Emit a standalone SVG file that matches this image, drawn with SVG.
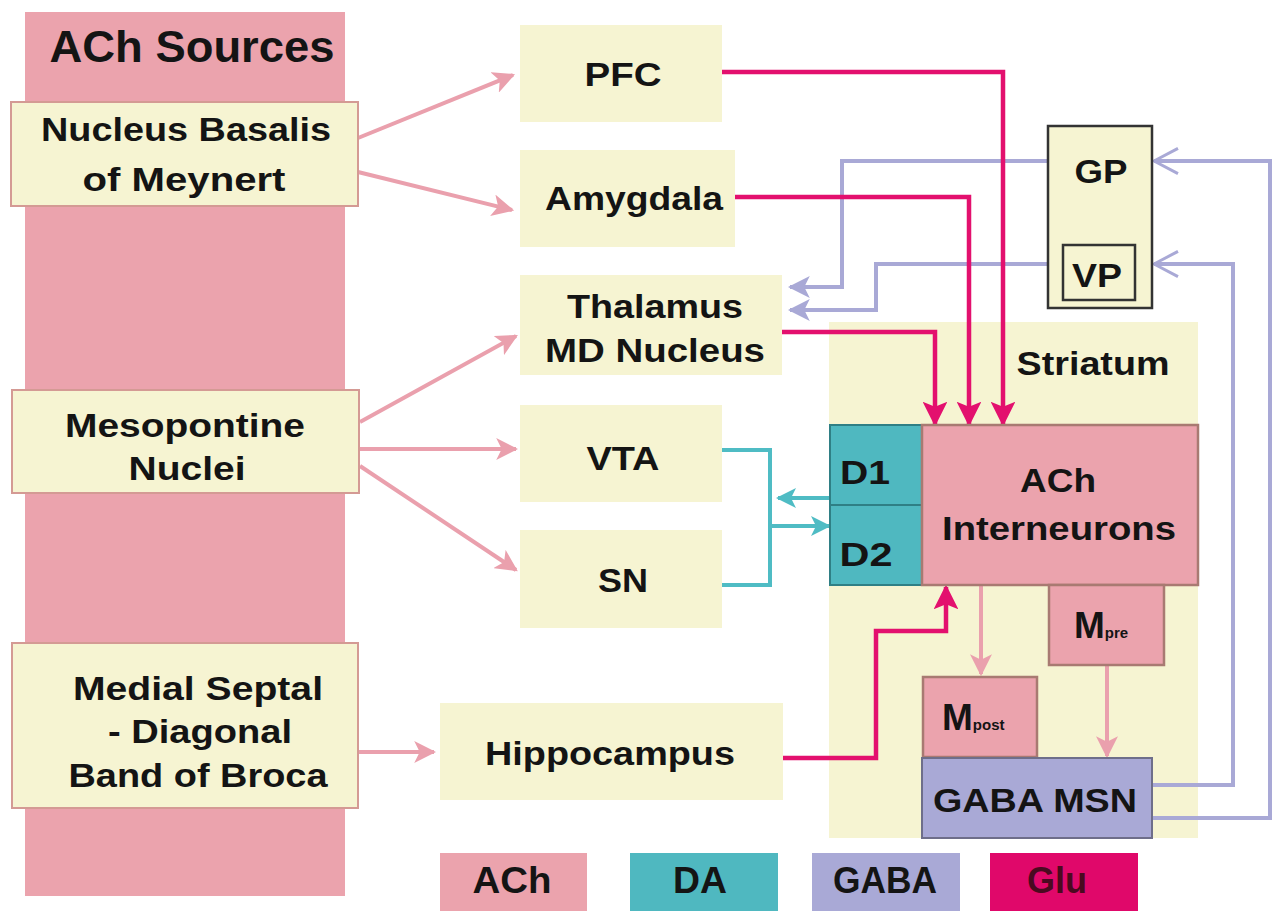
<svg xmlns="http://www.w3.org/2000/svg" width="1278" height="911" viewBox="0 0 1278 911">
<defs>
<style>
text{font-family:"Liberation Sans",Arial,sans-serif;font-weight:bold;fill:#141414;text-anchor:middle}
.t{font-size:33px}
.y{fill:#f6f4d2}
.src{fill:#f6f4d2;stroke:#d49a94;stroke-width:2}
.ach{fill:#eba3ad;stroke:#a87a72;stroke-width:2.5}
.ca{fill:none;stroke:#eaa0ad;stroke-width:4}
.cg{fill:none;stroke:#e3106e;stroke-width:4.5}
.cd{fill:none;stroke:#4fbcc4;stroke-width:4}
.cb{fill:none;stroke:#a9a9d6;stroke-width:4}
</style>
<marker id="ma" viewBox="0 0 10 10" refX="9" refY="5" markerWidth="5.5" markerHeight="5.5" orient="auto" markerUnits="strokeWidth"><path d="M0,0 L10,5 L0,10 L2.5,5 z" fill="#eaa0ad"/></marker>
<marker id="mg" viewBox="0 0 10 10" refX="9" refY="5" markerWidth="5.5" markerHeight="5.5" orient="auto" markerUnits="strokeWidth"><path d="M0,0 L10,5 L0,10 L2,5 z" fill="#e3106e"/></marker>
<marker id="md" viewBox="0 0 10 10" refX="9" refY="5" markerWidth="5" markerHeight="5" orient="auto" markerUnits="strokeWidth"><path d="M0,0 L10,5 L0,10 L2.5,5 z" fill="#4fbcc4"/></marker>
<marker id="mb" viewBox="0 0 10 10" refX="9" refY="5" markerWidth="5.5" markerHeight="5.5" orient="auto" markerUnits="strokeWidth"><path d="M0,0 L10,5 L0,10 L2.5,5 z" fill="#a9a9d6"/></marker>
<marker id="mo" viewBox="0 0 10 10" refX="9" refY="5" markerWidth="7.5" markerHeight="7.5" orient="auto" markerUnits="strokeWidth"><path d="M1,0.8 L9,5 L1,9.2" fill="none" stroke="#a9a9d6" stroke-width="1"/></marker>
</defs>
<rect width="1278" height="911" fill="#ffffff"/>

<g id="ach-sources">
<rect x="25" y="12" width="320" height="884" fill="#eba3ad"/>
<text x="192" y="62" style="font-size:44px" textLength="285" lengthAdjust="spacingAndGlyphs">ACh Sources</text>
</g>

<g id="striatum">
<rect x="829" y="322" width="369" height="516" class="y"/>
<text x="1093" y="375" class="t" textLength="153" lengthAdjust="spacingAndGlyphs">Striatum</text>
</g>

<g id="connectors">
<!-- ACh -->
<line x1="358" y1="138" x2="513" y2="75" class="ca" marker-end="url(#ma)"/>
<line x1="358" y1="172" x2="512" y2="210" class="ca" marker-end="url(#ma)"/>
<line x1="360" y1="422" x2="516" y2="336" class="ca" marker-end="url(#ma)"/>
<line x1="360" y1="449" x2="516" y2="449" class="ca" marker-end="url(#ma)"/>
<line x1="360" y1="466" x2="516" y2="570" class="ca" marker-end="url(#ma)"/>
<line x1="358" y1="752" x2="434" y2="752" class="ca" marker-end="url(#ma)"/>
<line x1="981" y1="585" x2="981" y2="674" class="ca" stroke-width="3.5" marker-end="url(#ma)"/>
<line x1="1107" y1="665" x2="1107" y2="756" class="ca" stroke-width="3.5" marker-end="url(#ma)"/>
<!-- GABA -->
<polyline points="1152,785 1233,785 1233,264 1154,264" class="cb" marker-end="url(#mo)"/>
<polyline points="1152,818 1270,818 1270,161 1154,161" class="cb" marker-end="url(#mo)"/>
<polyline points="1048,161 842,161 842,287 790,287" class="cb" marker-end="url(#mb)"/>
<polyline points="1048,264 876,264 876,310 790,310" class="cb" marker-end="url(#mb)"/>
<!-- Glu -->
<polyline points="722,72 1003,72 1003,424" class="cg" marker-end="url(#mg)"/>
<polyline points="735,197 969,197 969,424" class="cg" marker-end="url(#mg)"/>
<polyline points="782,332 935,332 935,424" class="cg" marker-end="url(#mg)"/>
<polyline points="783,758 876,758 876,631 946,631 946,587" class="cg" marker-end="url(#mg)"/>
<!-- DA -->
<polyline points="722,450 770,450 770,585 722,585" class="cd"/>
<line x1="830" y1="498" x2="778" y2="498" class="cd" marker-end="url(#md)"/>
<line x1="770" y1="526" x2="829" y2="526" class="cd" marker-end="url(#md)"/>
</g>

<g id="nbm">
<rect x="11" y="102" width="347" height="104" class="src"/>
<text x="186" y="141" class="t" textLength="290" lengthAdjust="spacingAndGlyphs">Nucleus Basalis</text>
<text x="184" y="191" class="t" textLength="203" lengthAdjust="spacingAndGlyphs">of Meynert</text>
</g>
<g id="mesopontine">
<rect x="12" y="390" width="347" height="103" class="src"/>
<text x="185" y="437" class="t" textLength="240" lengthAdjust="spacingAndGlyphs">Mesopontine</text>
<text x="187" y="480" class="t" textLength="117" lengthAdjust="spacingAndGlyphs">Nuclei</text>
</g>
<g id="medial-septal">
<rect x="12" y="643" width="346" height="165" class="src"/>
<text x="198" y="700" class="t" textLength="250" lengthAdjust="spacingAndGlyphs">Medial Septal</text>
<text x="200" y="743" class="t" textLength="184" lengthAdjust="spacingAndGlyphs">- Diagonal</text>
<text x="198" y="787" class="t" textLength="259" lengthAdjust="spacingAndGlyphs">Band of Broca</text>
</g>

<g id="pfc"><rect x="520" y="25" width="202" height="97" class="y"/><text x="623" y="86" class="t" textLength="77" lengthAdjust="spacingAndGlyphs">PFC</text></g>
<g id="amygdala"><rect x="520" y="150" width="215" height="97" class="y"/><text x="634" y="210" class="t" textLength="178" lengthAdjust="spacingAndGlyphs">Amygdala</text></g>
<g id="thalamus"><rect x="520" y="275" width="262" height="100" class="y"/><text x="655" y="318" class="t" textLength="176" lengthAdjust="spacingAndGlyphs">Thalamus</text><text x="655" y="362" class="t" textLength="220" lengthAdjust="spacingAndGlyphs">MD Nucleus</text></g>
<g id="vta"><rect x="520" y="405" width="202" height="97" class="y"/><text x="623" y="470" class="t" textLength="73" lengthAdjust="spacingAndGlyphs">VTA</text></g>
<g id="sn"><rect x="520" y="530" width="202" height="98" class="y"/><text x="623" y="592" class="t" textLength="50" lengthAdjust="spacingAndGlyphs">SN</text></g>
<g id="hippocampus"><rect x="440" y="703" width="343" height="97" class="y"/><text x="610" y="765" class="t" textLength="250" lengthAdjust="spacingAndGlyphs">Hippocampus</text></g>

<g id="gp">
<rect x="1048" y="126" width="104" height="182" fill="#f6f4d2" stroke="#333" stroke-width="2.5"/>
<text x="1101" y="183" class="t" textLength="53" lengthAdjust="spacingAndGlyphs">GP</text>
</g>
<g id="vp">
<rect x="1063" y="245" width="72" height="55" fill="none" stroke="#333" stroke-width="2.5"/>
<text x="1097" y="287" class="t" textLength="50" lengthAdjust="spacingAndGlyphs">VP</text>
</g>

<g id="d1">
<rect x="830" y="425" width="92" height="80" fill="#4fb8c0" stroke="#2f7f85" stroke-width="2"/>
<text x="865" y="484" class="t" textLength="50" lengthAdjust="spacingAndGlyphs">D1</text>
</g>
<g id="d2">
<rect x="830" y="505" width="92" height="80" fill="#4fb8c0" stroke="#2f7f85" stroke-width="2"/>
<text x="866" y="566" class="t" textLength="53" lengthAdjust="spacingAndGlyphs">D2</text>
</g>
<g id="ach-interneurons">
<rect x="922" y="425" width="276" height="160" class="ach"/>
<text x="1058" y="492" class="t" textLength="76" lengthAdjust="spacingAndGlyphs">ACh</text>
<text x="1059" y="540" class="t" textLength="234" lengthAdjust="spacingAndGlyphs">Interneurons</text>
</g>
<g id="mpre">
<rect x="1049" y="585" width="115" height="80" class="ach"/>
<text x="1074" y="638" style="font-size:37px;text-anchor:start">M<tspan style="font-size:15px">pre</tspan></text>
</g>
<g id="mpost">
<rect x="923" y="677" width="114" height="80" class="ach"/>
<text x="942" y="730" style="font-size:37px;text-anchor:start">M<tspan style="font-size:15px">post</tspan></text>
</g>
<g id="gaba-msn">
<rect x="922" y="758" width="230" height="80" fill="#a9a9d6" stroke="#6e6e8a" stroke-width="2"/>
<text x="1035" y="812" class="t" textLength="204" lengthAdjust="spacingAndGlyphs">GABA MSN</text>
</g>

<g id="legend">
<rect x="440" y="853" width="147" height="58" fill="#eba3ad"/>
<text x="512" y="893" style="font-size:36px" textLength="79" lengthAdjust="spacingAndGlyphs">ACh</text>
<rect x="630" y="853" width="148" height="58" fill="#4fb8c0"/>
<text x="700" y="893" style="font-size:36px" textLength="54" lengthAdjust="spacingAndGlyphs">DA</text>
<rect x="812" y="853" width="148" height="58" fill="#a9a9d6"/>
<text x="885" y="893" style="font-size:36px" textLength="104" lengthAdjust="spacingAndGlyphs">GABA</text>
<rect x="990" y="853" width="148" height="58" fill="#e0086a"/>
<text x="1057" y="893" style="font-size:36px;fill:#4a0a20" textLength="60" lengthAdjust="spacingAndGlyphs">Glu</text>
</g>
</svg>
